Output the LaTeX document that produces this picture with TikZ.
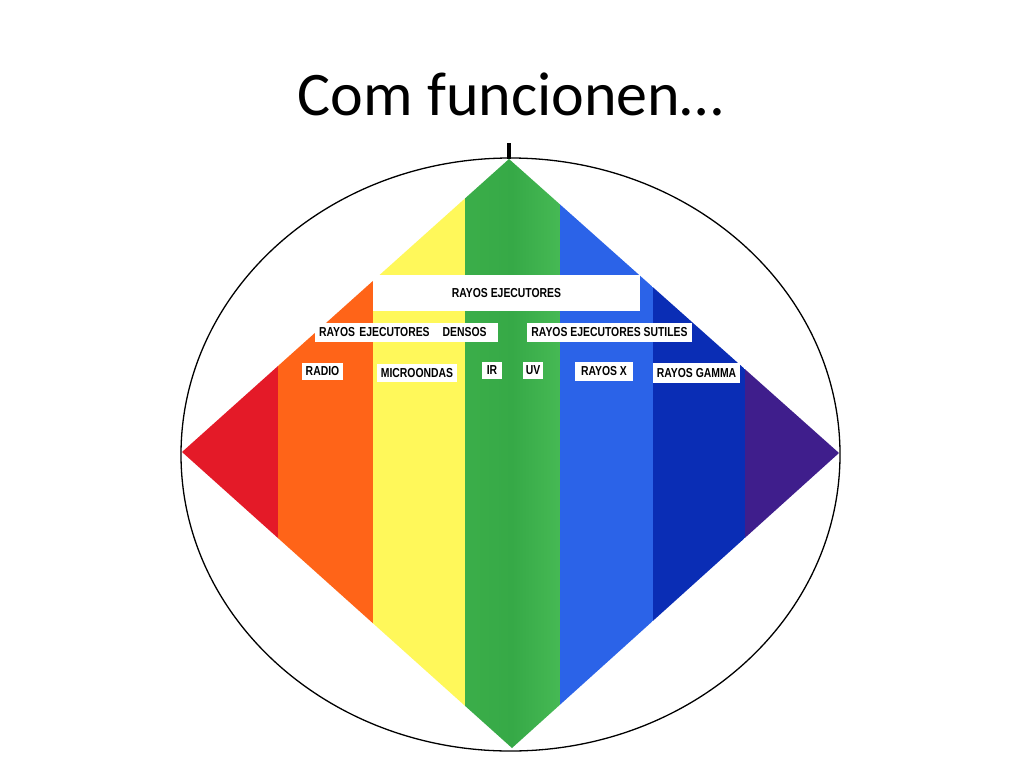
\documentclass[tikz,border=0pt]{standalone}
\usepackage{fontspec}
\newfontfamily\titlefont{Carlito}
\newfontfamily\labfont[FakeStretch=0.8]{Liberation Sans}
\definecolor{cred}{HTML}{E41A28}
\definecolor{corange}{HTML}{FF6418}
\definecolor{cyellow}{HTML}{FFF85A}
\definecolor{cgreenA}{HTML}{3BAE49}
\definecolor{cgreenB}{HTML}{36A947}
\definecolor{cgreenC}{HTML}{46B954}
\definecolor{cblue}{HTML}{2B63E8}
\definecolor{cdblue}{HTML}{0A2DB5}
\definecolor{cpurple}{HTML}{3F1E8C}
\begin{document}
\begin{tikzpicture}[x=1pt,y=-1pt,
  labbox/.style={rectangle,fill=white,inner sep=0pt,font=\labfont\bfseries\fontsize{13}{13}\selectfont}]
\useasboundingbox (0,0) rectangle (1024,768);
\fill[white] (0,0) rectangle (1024,768);
% title
\node[anchor=base,font=\titlefont\fontsize{62}{62}\selectfont,inner sep=0pt] (title) at (510.5,115) {Com funcionen…};
% diamond
\coordinate (T) at (509,159);
\coordinate (B) at (512,748);
\coordinate (L) at (182,452);
\coordinate (R) at (839,453);
\begin{scope}
\clip (T) -- (R) -- (B) -- (L) -- cycle;
\fill[cred] (170,150) rectangle (278,760);
\fill[corange] (278,150) rectangle (373,760);
\fill[cyellow] (373,150) rectangle (465,760);
\shade[left color=cgreenA,right color=cgreenC,middle color=cgreenB] (465,150) rectangle (560,760);
\fill[cblue] (560,150) rectangle (653,760);
\fill[cdblue] (653,150) rectangle (745,760);
\fill[cpurple] (745,150) rectangle (850,760);
\end{scope}
% ellipse
\draw[black,line width=1.3pt] (510.5,454.5) ellipse [x radius=329.5,y radius=296.5];
\coordinate (tickT) at (509,143);
\draw[black,line width=4pt] (tickT) -- (T);
% labels
\node[labbox,minimum width=267,minimum height=36] (re) at (506.5,293) {RAYOS EJECUTORES};
\node[labbox,minimum width=183,minimum height=19,text width=175,align=left] (red) at (406.5,332.5) {RAYOS EJECUTORES\ \ \ DENSOS};
\node[labbox,minimum width=165,minimum height=19] (res) at (609.5,332.5) {RAYOS EJECUTORES SUTILES};
\node[labbox,minimum width=41,minimum height=17] (radio) at (322.5,371.5) {RADIO};
\node[labbox,minimum width=80,minimum height=18] (micro) at (417,373) {MICROONDAS};
\node[labbox,minimum width=20,minimum height=17] (ir) at (492,370.5) {IR};
\node[labbox,minimum width=20,minimum height=17] (uv) at (533,370.5) {UV};
\node[labbox,minimum width=58,minimum height=19] (rx) at (604,371.5) {RAYOS X};
\node[labbox,minimum width=87,minimum height=20] (rg) at (696.5,373) {RAYOS GAMMA};
\end{tikzpicture}
\end{document}
